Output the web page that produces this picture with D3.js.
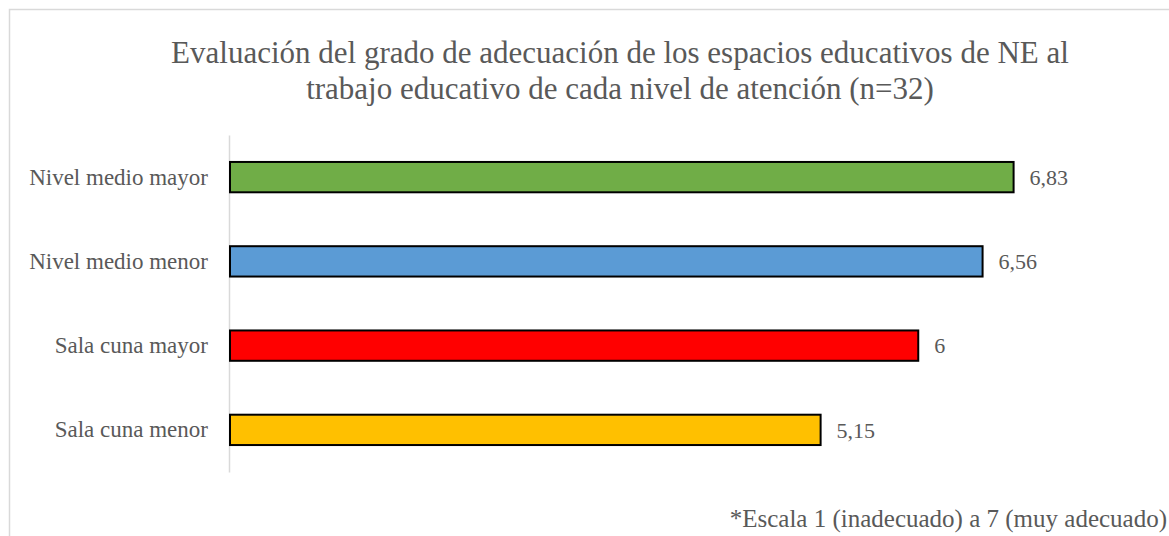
<!DOCTYPE html>
<html>
<head>
<meta charset="utf-8">
<script src="https://cdn.jsdelivr.net/npm/d3@7"></script>
<style>
  body { margin: 0; background: #fff; }
</style>
</head>
<body>
<svg id="chart" width="1169" height="536"></svg>
<script>
// data
const categories = ["Nivel medio mayor", "Nivel medio menor", "Sala cuna mayor", "Sala cuna menor"];
const values = [6.83, 6.56, 6, 5.15];
const valueLabels = ["6,83", "6,56", "6", "5,15"];
const colors = ["#70AD47", "#5B9BD5", "#FF0000", "#FFC000"];
const titleLines = [
    "Evaluación del grado de adecuación de los espacios educativos de NE al",
    "trabajo educativo de cada nivel de atención (n=32)"
];
const footnote = "*Escala 1 (inadecuado) a 7 (muy adecuado)";

const serif = "'Liberation Serif', 'DejaVu Serif', serif";
const textColor = "#595959";

const svg = d3.select("#chart");

// outer chart border (runs off the right and bottom edge)
svg.append("rect")
    .attr("x", 9.5).attr("y", 9.5)
    .attr("width", 1200).attr("height", 600)
    .attr("fill", "none")
    .attr("stroke", "#d9d9d9")
    .attr("stroke-width", 1.5);

const plot = {left: 229, right: 1148, top: 135, bottom: 472};

let xScale = d3.scaleLinear().domain([0, 8]).range([plot.left, plot.right]);
let yScale = d3.scaleBand().domain(categories).range([plot.top, plot.bottom])
    .paddingInner(0.64).paddingOuter(0.32);

// title
svg.append("g").selectAll("text")
    .data(titleLines)
    .join("text")
    .attr("x", 620)
    .attr("y", (d, i) => 63 + i * 36)
    .attr("text-anchor", "middle")
    .style("font-family", serif)
    .style("font-size", "31px")
    .attr("fill", textColor)
    .text(d => d);

// vertical category axis line
let yAxis = d3.axisLeft(yScale).tickSize(0).tickPadding(21);
let gy = svg.append("g")
    .attr("transform", "translate(" + plot.left + ",0)")
    .call(yAxis);
gy.select(".domain").attr("stroke", "#d9d9d9").attr("stroke-width", 1.5);
gy.selectAll(".tick text")
    .style("font-size", "23px")
    .style("font-family", serif)
    .attr("fill", textColor);

// bars
svg.append("g").selectAll("rect")
    .data(values)
    .join("rect")
    .attr("x", xScale(0) + 1)
    .attr("y", (d, i) => yScale(categories[i]))
    .attr("width", d => xScale(d) - xScale(0) - 1)
    .attr("height", yScale.bandwidth())
    .attr("fill", (d, i) => colors[i])
    .attr("stroke", "#000")
    .attr("stroke-width", 2);

// value labels
svg.append("g").selectAll("text")
    .data(values)
    .join("text")
    .attr("x", d => xScale(d) + 16)
    .attr("y", (d, i) => yScale(categories[i]) + yScale.bandwidth() / 2)
    .attr("dy", "0.35em")
    .style("font-family", serif)
    .style("font-size", "22px")
    .attr("fill", textColor)
    .text((d, i) => valueLabels[i]);

// footnote
svg.append("text")
    .attr("x", 1167)
    .attr("y", 527)
    .attr("text-anchor", "end")
    .style("font-family", serif)
    .style("font-size", "25px")
    .attr("fill", textColor)
    .text(footnote);
</script>
</body>
</html>
